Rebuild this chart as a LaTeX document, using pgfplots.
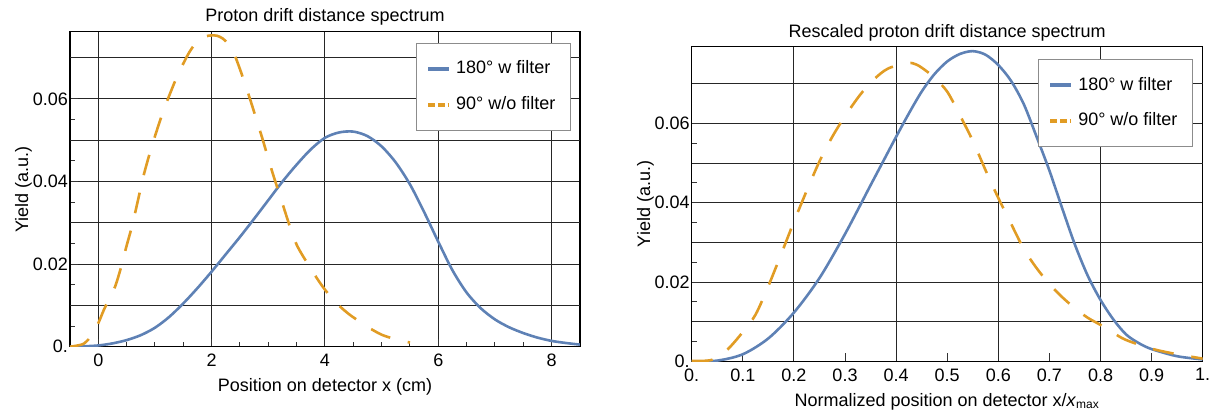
\documentclass[border=0pt]{standalone}
\usepackage{fontspec}
\setmainfont{Liberation Sans}
\usepackage{pgfplots}
\pgfplotsset{compat=1.18}

\definecolor{mblue}{RGB}{94,129,181}
\definecolor{morange}{RGB}{225,156,36}

\pgfplotsset{
  spec/.style={
    scale only axis,
    axis line style={black, line width=0.6pt},
    tick pos=left,
    tick align=inside,
    major tick length=4pt,
    minor tick length=2.5pt,
    every tick/.style={black!80, line width=0.5pt},
    grid style={black!85, line width=0.5pt},
    xmajorgrids=true,
    ymajorgrids=true,
    ymin=0,
    scaled y ticks=false,
    ytick={0,0.02,0.04,0.06},
    yticklabels={0.,0.02,0.04,0.06},
    minor y tick num=3,
    extra y ticks={0.01,0.03,0.05,0.07},
    extra y tick labels={},
    extra y tick style={grid=major, major tick length=0pt},
    tick label style={font=\fontsize{9}{11}\selectfont},
    yticklabel style={inner xsep=0.8pt},
    label style={font=\fontsize{9}{11}\selectfont},
    title style={font=\fontsize{9}{11}\selectfont, yshift=-6pt},
    ylabel={Yield (a.u.)},
    legend cell align=left,
    legend style={draw=black!45, fill=white, line width=0.5pt,
      font=\fontsize{9}{11}\selectfont,
      inner xsep=5pt, inner ysep=6.2pt, row sep=4.8pt,
      nodes={inner sep=2.5pt}},
  },
  bluecurve/.style={mblue, line width=1.3pt, smooth, tension=0.5,
    legend image code/.code={\draw[mblue, line width=2pt] (0cm,0cm) -- (0.37cm,0cm);}},
  orangecurve/.style={morange, line width=1.3pt, smooth, tension=0.5,
    dash pattern=on 10.5pt off 9pt,
    legend image code/.code={\draw[morange, line width=2pt, dash pattern=on 3.6pt off 1.3pt] (0cm,0cm) -- (0.37cm,0cm);}},
}

\begin{document}
\begin{tikzpicture}
\path[use as bounding box] (-35pt,-32.15pt) rectangle (572.5pt,173.35pt);

% left panel
\begin{axis}[spec,
    at={(0pt,0pt)}, anchor=south west,
    width=255pt, height=157.5pt,
    xmin=-0.5, xmax=8.5, ymax=0.0763,
    xtick={0,2,4,6,8},
    xticklabels={0,2,4,6,8},
    minor x tick num=3,
    title={Proton drift distance spectrum},
    title style={at={(axis description cs:0.5,1.032)}, anchor=base},
    xlabel={Position on detector x (cm)},
    xlabel style={at={(axis description cs:0.5,-0.141)}, anchor=base},
    ylabel style={at={(axis description cs:-0.082,0.5)}, anchor=base},
    legend style={at={(0.982,0.964)}, anchor=north east},
  ]
  \addplot[bluecurve] coordinates {
    (-0.5,0.0000) (-0.25,0.0001) (0,0.0003) (0.25,0.0008) (0.5,0.0016)
    (0.75,0.0028) (1.0,0.0046) (1.25,0.0072) (1.5,0.0105) (1.75,0.0142)
    (2.0,0.0182) (2.25,0.0224) (2.5,0.0266) (2.75,0.0310) (3.0,0.0355)
    (3.25,0.0400) (3.5,0.0441) (3.75,0.0478) (4.0,0.0506) (4.25,0.0519)
    (4.5,0.0521) (4.75,0.0510) (5.0,0.0485) (5.25,0.0446) (5.5,0.0393)
    (5.75,0.0326) (6.0,0.0254) (6.25,0.0185) (6.5,0.0131)
    (6.75,0.0093) (7.0,0.0066) (7.25,0.0047) (7.5,0.0033) (7.75,0.0022)
    (8.0,0.0014) (8.25,0.0009) (8.5,0.0005)
  };
  \addlegendentry{180° w filter}
  \addplot[orangecurve] coordinates {
    (-0.5,0.0000) (-0.4,0.0002) (-0.25,0.0008) (-0.1,0.0030) (0,0.0057)
    (0.1,0.0090) (0.2,0.0118) (0.3,0.0147) (0.4,0.0192) (0.5,0.0245)
    (0.6,0.0295) (0.7,0.0355) (0.8,0.0415) (0.9,0.0465) (1.0,0.0510)
    (1.1,0.0552) (1.2,0.0590) (1.3,0.0625) (1.4,0.0658) (1.5,0.0686)
    (1.6,0.0712) (1.7,0.0732) (1.8,0.0745) (1.9,0.0752) (2.0,0.0754)
    (2.1,0.0753) (2.2,0.0746) (2.3,0.0732) (2.4,0.0708) (2.5,0.0672)
    (2.6,0.0632) (2.7,0.0590) (2.8,0.0546) (2.9,0.0502) (3.0,0.0455)
    (3.1,0.0410) (3.2,0.0368) (3.3,0.0325) (3.4,0.0283) (3.5,0.0247)
    (3.6,0.0222) (3.7,0.0200) (3.8,0.0178) (3.9,0.0157) (4.0,0.0138)
    (4.15,0.0113) (4.3,0.0093) (4.45,0.0076) (4.6,0.0062) (4.75,0.0048)
    (5.0,0.0029) (5.25,0.0018) (5.5,0.0010)
  };
  \addlegendentry{90° w/o filter}
\end{axis}

% right panel
\begin{axis}[spec,
    at={(310.85pt,-7.35pt)}, anchor=south west,
    width=255.5pt, height=157.3pt,
    xmin=0, xmax=1, ymax=0.0793,
    xtick={0,0.1,0.2,0.3,0.4,0.5,0.6,0.7,0.8,0.9,1},
    xticklabels={0.,0.1,0.2,0.3,0.4,0.5,0.6,0.7,0.8,0.9,1.},
    xmajorgrids=false,
    extra x ticks={0.2,0.4,0.6,0.8},
    extra x tick labels={},
    extra x tick style={grid=major, major tick length=0pt},
    title={Rescaled proton drift distance spectrum},
    title style={at={(axis description cs:0.5,1.030)}, anchor=base},
    xlabel={Normalized position on detector x/\textit{x}\textsubscript{max}},
    xlabel style={at={(axis description cs:0.5,-0.142)}, anchor=base},
    ylabel style={at={(axis description cs:-0.0816,0.5)}, anchor=base},
    legend style={at={(0.981,0.961)}, anchor=north east},
  ]
  \addplot[bluecurve] coordinates {
    (0,0.0000) (0.05,0.0002) (0.1,0.0018) (0.15,0.0058) (0.2,0.0123)
    (0.25,0.0210) (0.3,0.0321) (0.35,0.0444) (0.375,0.0505) (0.4,0.0566)
    (0.425,0.0625) (0.45,0.0680) (0.475,0.0724) (0.5,0.0756) (0.525,0.0775)
    (0.55,0.0782) (0.575,0.0773) (0.6,0.0747) (0.625,0.0707) (0.65,0.0648)
    (0.675,0.0566) (0.7,0.0481) (0.725,0.0386) (0.75,0.0294) (0.775,0.0216)
    (0.8,0.0155) (0.825,0.0106) (0.85,0.0068) (0.875,0.0046) (0.9,0.0031)
    (0.95,0.0013) (1.0,0.0005)
  };
  \addlegendentry{180° w filter}
  \addplot[orangecurve] coordinates {
    (0,0.0001) (0.04,0.0004) (0.07,0.0030) (0.1,0.0074) (0.125,0.0118)
    (0.15,0.0190) (0.175,0.0270) (0.2,0.0352) (0.225,0.0430) (0.25,0.0504)
    (0.275,0.0566) (0.3,0.0618) (0.329,0.0671) (0.355,0.0709) (0.384,0.0738)
    (0.423,0.0752) (0.44,0.0748) (0.457,0.0734) (0.475,0.0715) (0.5,0.0680)
    (0.525,0.0620) (0.55,0.0556) (0.575,0.0482) (0.6,0.0412) (0.625,0.0347)
    (0.65,0.0283) (0.675,0.0235) (0.7,0.0195) (0.725,0.0162) (0.75,0.0134)
    (0.775,0.0110) (0.8,0.0092) (0.825,0.0072) (0.85,0.0054) (0.9,0.0032)
    (0.95,0.0018) (1.0,0.0007)
  };
  \addlegendentry{90° w/o filter}
\end{axis}
\end{tikzpicture}
\end{document}
